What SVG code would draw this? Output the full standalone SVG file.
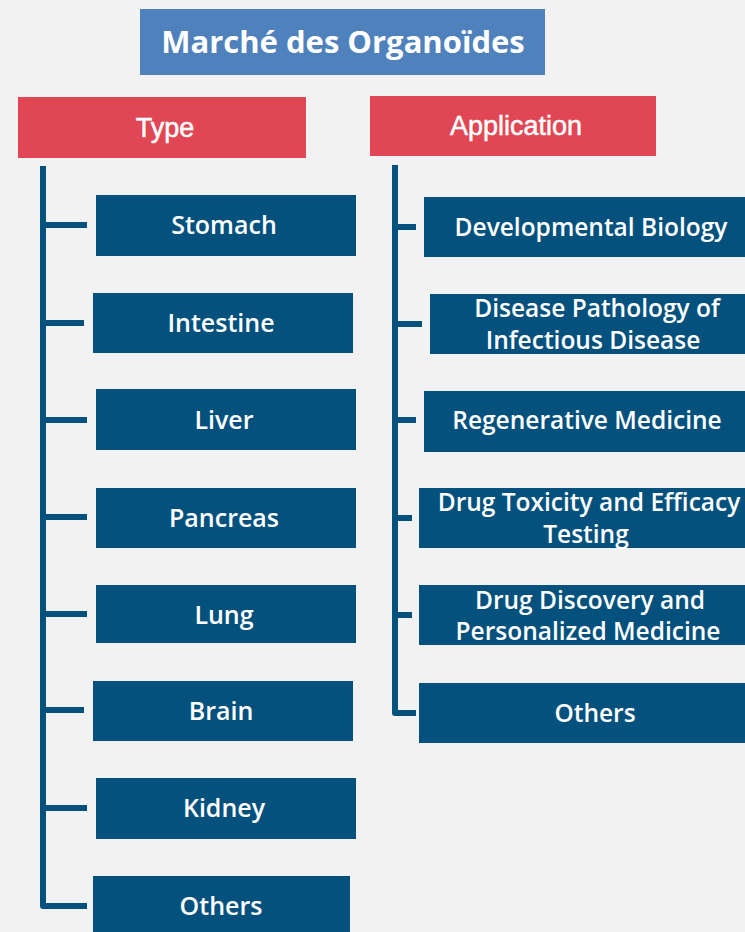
<svg xmlns="http://www.w3.org/2000/svg" width="745" height="932" viewBox="0 0 745 932">
<style>
.bg{fill:#f2f2f2}
.title{fill:#4f81bd}
.cat{fill:#e14655}
.box{fill:#05517e}
.t{fill:#fff;font-family:"Open Sans","Liberation Sans",sans-serif;font-size:25px;font-weight:600;text-anchor:middle}
.a{fill:#fff;font-family:"Open Sans","Liberation Sans",sans-serif;font-size:24.5px;font-weight:600;text-anchor:middle}
.h{fill:#fff;font-family:"Open Sans","Liberation Sans",sans-serif;font-size:31px;font-weight:bold;text-anchor:middle}
.c{fill:#fff;font-family:"Liberation Sans",Arial,sans-serif;font-size:27px;text-anchor:middle;stroke:#fff;stroke-width:0.5}
.ln{stroke:#05517e;stroke-width:6;fill:none;stroke-linejoin:round}
</style>
<rect class="bg" x="0" y="0" width="745" height="932"/>
<g id="title"><rect class="title" x="140" y="9" width="405" height="66"/><text class="h" x="343" y="53">Marché des Organoïdes</text></g>
<g id="type"><rect class="cat" x="18" y="97" width="288" height="61"/><text class="c" x="165" y="137">Type</text></g>
<g id="application"><rect class="cat" x="370" y="96" width="286" height="60"/><text class="c" x="516" y="135">Application</text></g>
<g id="connectors">
<path class="ln" d="M43 166V906H87M43 225H87M43 323H84M43 420H87M43 517H87M43 614H87M43 710H84M43 808H87"/>
<path class="ln" d="M395 165V713H416M395 227H416M395 324H422M395 420H416M395 518H412M395 615H412"/>
</g>
<g id="stomach"><rect class="box" x="96" y="195" width="260" height="61"/><text class="t" x="224" y="234">Stomach</text></g>
<g id="intestine"><rect class="box" x="93" y="293" width="260" height="60"/><text class="t" x="221" y="332">Intestine</text></g>
<g id="liver"><rect class="box" x="96" y="389" width="260" height="61"/><text class="t" x="224" y="429">Liver</text></g>
<g id="pancreas"><rect class="box" x="96" y="488" width="260" height="60"/><text class="t" x="224" y="527">Pancreas</text></g>
<g id="lung"><rect class="box" x="96" y="585" width="260" height="58"/><text class="t" x="224" y="624">Lung</text></g>
<g id="brain"><rect class="box" x="93" y="681" width="260" height="60"/><text class="t" x="221" y="720">Brain</text></g>
<g id="kidney"><rect class="box" x="96" y="778" width="260" height="61"/><text class="t" x="224" y="817">Kidney</text></g>
<g id="others-type"><rect class="box" x="93" y="876" width="257" height="60"/><text class="t" x="221" y="915">Others</text></g>
<g id="developmental"><rect class="box" x="424" y="197" width="325" height="60"/><text class="a" x="591" y="236">Developmental Biology</text></g>
<g id="disease"><rect class="box" x="430" y="294" width="320" height="60"/><text class="a" x="597" y="317">Disease Pathology of</text><text class="a" x="593" y="349">Infectious Disease</text></g>
<g id="regenerative"><rect class="box" x="424" y="391" width="325" height="61"/><text class="a" x="587" y="429">Regenerative Medicine</text></g>
<g id="toxicity"><rect class="box" x="419" y="488" width="330" height="60"/><text class="a" x="589" y="511">Drug Toxicity and Efficacy</text><text class="a" x="586" y="543">Testing</text></g>
<g id="discovery"><rect class="box" x="419" y="585" width="330" height="60"/><text class="a" x="590" y="609">Drug Discovery and</text><text class="a" x="588" y="640">Personalized Medicine</text></g>
<g id="others-app"><rect class="box" x="419" y="683" width="330" height="60"/><text class="a" x="595" y="722">Others</text></g>
</svg>
